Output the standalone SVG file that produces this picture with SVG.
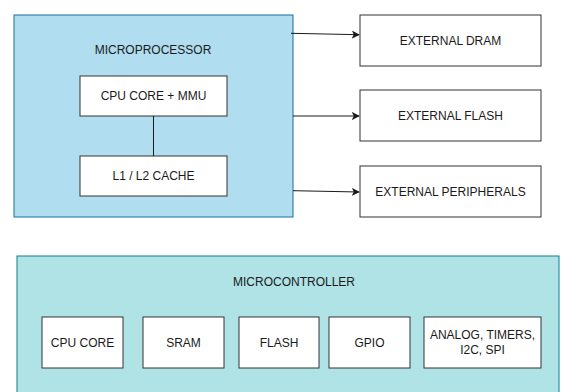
<svg xmlns="http://www.w3.org/2000/svg" width="564" height="392" viewBox="0 0 564 392">
<defs>
<style>
text{font-family:"Liberation Sans",Arial,sans-serif;font-size:12px;fill:#1a1a1a;text-anchor:middle;dominant-baseline:central}
.box{fill:#ffffff;stroke:#333333;stroke-width:1}
.conn{stroke:#1a1a1a;stroke-width:1;fill:none}
</style>
<marker id="arr" viewBox="0 0 10 10" refX="9" refY="5" markerWidth="8" markerHeight="8" markerUnits="userSpaceOnUse" orient="auto">
<path d="M0,0 L10,5 L0,10 L2.5,5 Z" fill="#1a1a1a"/>
</marker>
</defs>
<rect width="564" height="392" fill="#ffffff"/>
<g id="microprocessor">
<rect x="14" y="15" width="279" height="202" fill="#b1ddf0" stroke="#10739e"/>
<text x="153" y="50">MICROPROCESSOR</text>
</g>
<g id="cpu-mmu">
<rect class="box" x="80" y="76" width="147" height="40"/>
<text x="153.5" y="96">CPU CORE + MMU</text>
</g>
<g id="cache">
<rect class="box" x="80" y="156" width="147" height="40"/>
<text x="153.5" y="176">L1 / L2 CACHE</text>
</g>
<g id="ext-dram">
<rect class="box" x="360" y="15" width="181" height="51"/>
<text x="450.5" y="40.5">EXTERNAL DRAM</text>
</g>
<g id="ext-flash">
<rect class="box" x="360" y="90" width="181" height="51"/>
<text x="450.5" y="115.5">EXTERNAL FLASH</text>
</g>
<g id="ext-periph">
<rect class="box" x="360" y="166" width="181" height="51"/>
<text x="450.5" y="191.5">EXTERNAL PERIPHERALS</text>
</g>
<g id="microcontroller">
<rect x="17" y="256" width="542" height="150" fill="#b0e3e6" stroke="#0e8088"/>
<text x="294" y="282">MICROCONTROLLER</text>
</g>
<g id="mc-cpu">
<rect class="box" x="42" y="317" width="81" height="51"/>
<text x="82.5" y="342.5">CPU CORE</text>
</g>
<g id="mc-sram">
<rect class="box" x="143" y="317" width="81" height="51"/>
<text x="183.5" y="342.5">SRAM</text>
</g>
<g id="mc-flash">
<rect class="box" x="239" y="317" width="80" height="51"/>
<text x="279" y="342.5">FLASH</text>
</g>
<g id="mc-gpio">
<rect class="box" x="329" y="317" width="81" height="51"/>
<text x="369.5" y="342.5">GPIO</text>
</g>
<g id="mc-analog">
<rect class="box" x="424" y="317" width="117" height="51"/>
<text x="482.5" y="335">ANALOG, TIMERS,</text>
<text x="482.5" y="350">I2C, SPI</text>
</g>
<g id="connectors">
<line class="conn" x1="153.5" y1="116" x2="153.5" y2="156"/>
<line class="conn" x1="291" y1="33.3" x2="359" y2="34.7" marker-end="url(#arr)"/>
<line class="conn" x1="293" y1="116" x2="359" y2="116" marker-end="url(#arr)"/>
<line class="conn" x1="293" y1="190.7" x2="359" y2="192" marker-end="url(#arr)"/>
</g>
</svg>
